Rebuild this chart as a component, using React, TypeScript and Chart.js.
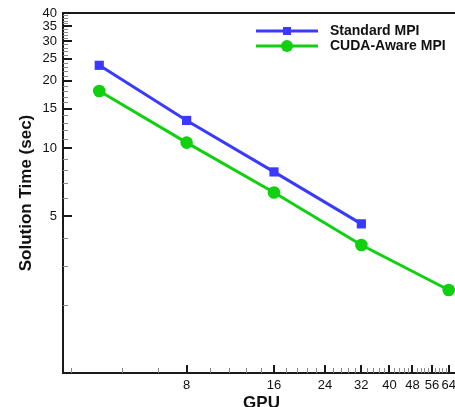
import { useEffect, useRef } from 'react';
import { Chart, registerables } from 'chart.js';
Chart.register(...registerables);

const gpuCounts = [4, 8, 16, 32, 64];
const standardMPI: (number | null)[] = [23.4, 13.3, 7.85, 4.61, null];
const cudaAwareMPI: (number | null)[] = [18.0, 10.6, 6.36, 3.71, 2.34];
const seriesNames = ['Standard MPI', 'CUDA-Aware MPI'];
const xMajorTicks = [8, 16, 24, 32, 40, 48, 56, 64];
const yMajorTicks = [5, 10, 15, 20, 25, 30, 35, 40];

const BLUE = '#3a3aff';
const GREEN = '#10d010';
const FONT = '"Liberation Sans", Arial, Helvetica, sans-serif';

const xMinorTicks: number[] = [];
for (let i = 2; i <= 40; i++) {
  const v = Math.round(i * 1.6 * 10) / 10;
  if (!xMajorTicks.includes(v)) xMinorTicks.push(v);
}
const yMinorTicks: number[] = [];
for (let v = 2; v < 40; v++) if (!yMajorTicks.includes(v)) yMinorTicks.push(v);

const toPoints = (vals: (number | null)[]) =>
  gpuCounts
    .map((g, i) => ({ x: g, y: vals[i] }))
    .filter((p) => p.y !== null) as { x: number; y: number }[];

const framePlugin = {
  id: 'frame',
  beforeDatasetsDraw(chart: any) {
    const { ctx, chartArea: a, scales } = chart;
    const xs = scales.x;
    const ys = scales.y;
    ctx.save();
    ctx.strokeStyle = '#1a1a1a';
    ctx.lineWidth = 2;
    ctx.beginPath();
    ctx.moveTo(a.left, a.top);
    ctx.lineTo(a.right, a.top);
    ctx.stroke();
    ctx.strokeStyle = '#8a8a8a';
    ctx.lineWidth = 1;
    ctx.beginPath();
    for (const v of xMinorTicks) {
      const px = Math.round(xs.getPixelForValue(v)) + 0.5;
      if (px < a.left + 2 || px > a.right) continue;
      ctx.moveTo(px, a.bottom);
      ctx.lineTo(px, a.bottom - 5);
    }
    for (const v of yMinorTicks) {
      const py = Math.round(ys.getPixelForValue(v)) + 0.5;
      ctx.moveTo(a.left, py);
      ctx.lineTo(a.left + 5, py);
    }
    ctx.stroke();
    ctx.strokeStyle = '#1a1a1a';
    ctx.lineWidth = 2;
    ctx.beginPath();
    for (const v of xMajorTicks) {
      const px = Math.round(xs.getPixelForValue(v));
      ctx.moveTo(px, a.bottom);
      ctx.lineTo(px, a.bottom - 8);
    }
    for (const v of yMajorTicks) {
      const py = Math.round(ys.getPixelForValue(v));
      ctx.moveTo(a.left, py);
      ctx.lineTo(a.left + 9, py);
    }
    ctx.stroke();
    ctx.restore();
  },
  afterDraw(chart: any) {
    const { ctx, chartArea: a } = chart;
    ctx.save();
    const x0 = a.left + 193;
    const x1 = a.left + 255;
    const xm = (x0 + x1) / 2;
    const rows = [a.top + 18, a.top + 33];
    const colors = [BLUE, GREEN];
    rows.forEach((y, i) => {
      ctx.strokeStyle = colors[i];
      ctx.fillStyle = colors[i];
      ctx.lineWidth = 3;
      ctx.beginPath();
      ctx.moveTo(x0, y);
      ctx.lineTo(x1, y);
      ctx.stroke();
      if (i === 0) {
        ctx.fillRect(xm - 4, y - 4, 8, 8);
      } else {
        ctx.beginPath();
        ctx.arc(xm, y, 6, 0, Math.PI * 2);
        ctx.fill();
      }
      ctx.fillStyle = '#111';
      ctx.font = `bold 14px ${FONT}`;
      ctx.textBaseline = 'middle';
      ctx.textAlign = 'left';
      ctx.fillText(seriesNames[i], x1 + 12, y);
    });
    ctx.restore();
  },
};

const zeroPad = (s: any) => {
  s.paddingLeft = 0;
  s.paddingRight = 0;
  s.paddingTop = 0;
  s.paddingBottom = 0;
};

export default function App() {
  const ref = useRef<HTMLCanvasElement | null>(null);
  useEffect(() => {
    document.body.style.margin = '0';
    if (!ref.current) return;
    const chart = new Chart(ref.current, {
      type: 'line',
      data: {
        datasets: [
          {
            label: seriesNames[0],
            data: toPoints(standardMPI),
            borderColor: BLUE,
            backgroundColor: BLUE,
            borderWidth: 3,
            pointStyle: 'rect',
            pointRadius: 6.5,
            pointBorderWidth: 0,
            clip: false,
          },
          {
            label: seriesNames[1],
            data: toPoints(cudaAwareMPI),
            borderColor: GREEN,
            backgroundColor: GREEN,
            borderWidth: 3,
            pointStyle: 'circle',
            pointRadius: 6.3,
            pointBorderWidth: 0,
            clip: false,
          },
        ],
      },
      options: {
        animation: false,
        responsive: false,
        devicePixelRatio: 1,
        layout: { autoPadding: false, padding: { top: 13, left: 0, right: 0, bottom: 0 } },
        plugins: { legend: { display: false }, tooltip: { enabled: false } },
        scales: {
          x: {
            type: 'logarithmic',
            min: 3,
            max: 70,
            grid: { display: false, drawTicks: false },
            border: { display: true, color: '#1a1a1a', width: 2 },
            afterBuildTicks: (s: any) => {
              s.ticks = xMajorTicks.map((v) => ({ value: v }));
            },
            afterFit: (s: any) => {
              s.height = 39;
              zeroPad(s);
            },
            ticks: {
              autoSkip: false,
              maxRotation: 0,
              padding: 5,
              color: '#111',
              font: { size: 13, family: FONT },
              callback: (v: any) => String(v),
            },
            title: {
              display: true,
              text: 'GPU',
              color: '#111',
              font: { size: 17, weight: 'bold', family: FONT, lineHeight: 1 },
              padding: { top: 0, bottom: 0 },
            },
          },
          y: {
            type: 'logarithmic',
            min: 1,
            max: 40,
            grid: { display: false, drawTicks: false },
            border: { display: true, color: '#1a1a1a', width: 2 },
            afterBuildTicks: (s: any) => {
              s.ticks = yMajorTicks.map((v) => ({ value: v }));
            },
            afterFit: (s: any) => {
              s.width = 63;
              zeroPad(s);
            },
            ticks: {
              autoSkip: false,
              padding: 6,
              color: '#111',
              font: { size: 13, family: FONT },
              callback: (v: any) => String(v),
            },
            title: {
              display: true,
              text: 'Solution Time (sec)',
              color: '#111',
              font: { size: 17, weight: 'bold', family: FONT, lineHeight: 1 },
              padding: { top: 18, bottom: 0 },
            },
          },
        },
      },
      plugins: [framePlugin],
    } as any);
    return () => chart.destroy();
  }, []);
  return (
    <div style={{ width: 455, height: 407, overflow: 'hidden', background: '#fff' }}>
      <canvas ref={ref} width={460} height={412} style={{ display: 'block' }} />
    </div>
  );
}
